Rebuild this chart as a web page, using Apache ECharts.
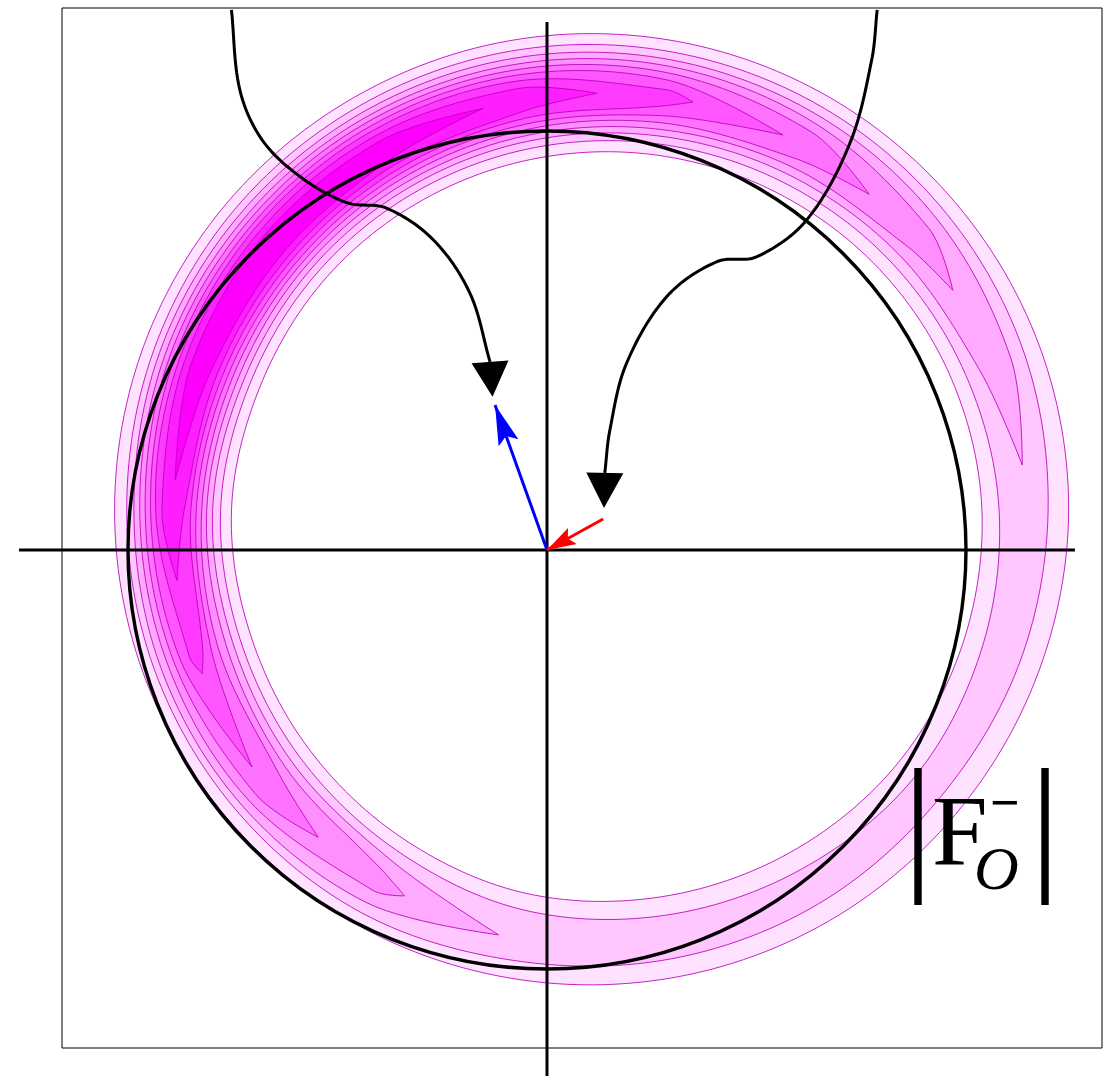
<!DOCTYPE html>
<html>
<head>
<meta charset="utf-8">
<script src="https://cdn.jsdelivr.net/npm/echarts@6/dist/echarts.min.js"></script>
<style>
  html, body { margin: 0; padding: 0; background: #ffffff; }
  #chart { width: 1113px; height: 1076px; }
</style>
</head>
<body>
<div id="chart"></div>
<script>
// ---------------------------------------------------------------
// Plane coordinates in units of the reference circle radius.
// ---------------------------------------------------------------
const X_RANGE = [-1.1575, 1.3246];
const Y_RANGE = [-1.1885, 1.2936];
const AXIS_HALF_LENGTH = 1.26;
const CIRCLE_CENTER = [0, 0];
const CIRCLE_RADIUS = 1;

// |F_O^-| contour ring: polar samples around the ring centre
const RING_CENTER = [0.109, 0.095];
const RING_ANGLES = [0, 20, 40, 60, 80, 100, 120, 140, 160, 180, 200, 220, 240, 260, 280, 300, 320, 340];

// levels 1 and 2 close all the way round
const L1_OUTER = [1.136, 1.136, 1.135, 1.136, 1.137, 1.138, 1.138, 1.140, 1.141, 1.141, 1.141, 1.141, 1.138, 1.134, 1.132, 1.131, 1.130, 1.132];
const L1_INNER = [0.929, 0.912, 0.894, 0.876, 0.861, 0.850, 0.844, 0.844, 0.847, 0.862, 0.869, 0.885, 0.905, 0.928, 0.937, 0.943, 0.946, 0.939];
const L2_OUTER = [1.087, 1.096, 1.102, 1.107, 1.110, 1.113, 1.114, 1.116, 1.115, 1.112, 1.113, 1.112, 1.108, 1.091, 1.087, 1.083, 1.076, 1.082];
const L2_INNER = [0.970, 0.947, 0.926, 0.905, 0.888, 0.876, 0.869, 0.868, 0.872, 0.888, 0.896, 0.914, 0.937, 0.968, 0.982, 0.991, 0.998, 0.986];

// levels 3..9 are crescents: two tips [angle, radius] plus outer/inner radii
const L3_ANGLES = [20, 40, 60, 80, 100, 120, 140, 160, 180, 200, 220, 240];
const L3_OUTER = [1.062, 1.076, 1.085, 1.091, 1.095, 1.097, 1.099, 1.100, 1.095, 1.097, 1.094, 1.081];
const L3_INNER = [0.982, 0.952, 0.927, 0.907, 0.894, 0.886, 0.885, 0.889, 0.907, 0.915, 0.936, 0.964];
const L3_TIPS = [[6, 1.031], [257.5, 1.038]];

const L4_ANGLES = [40, 60, 80, 100, 120, 140, 160, 180, 200, 220, 240];
const L4_OUTER = [1.047, 1.065, 1.075, 1.080, 1.083, 1.085, 1.086, 1.081, 1.079, 1.074, 1.048];
const L4_INNER = [0.980, 0.947, 0.923, 0.908, 0.900, 0.899, 0.903, 0.921, 0.932, 0.956, 0.997];
const L4_TIPS = [[31.4, 1.007], [244, 1.024]];

const L5_ANGLES = [60, 80, 100, 120, 140, 160, 180, 200, 220];
const L5_OUTER = [1.043, 1.059, 1.067, 1.071, 1.073, 1.074, 1.068, 1.063, 1.052];
const L5_INNER = [0.969, 0.939, 0.922, 0.913, 0.911, 0.916, 0.933, 0.952, 0.978];
const L5_TIPS = [[48.8, 1.002], [230, 1.019]];

const L6_ANGLES = [80, 100, 120, 140, 160, 180, 200];
const L6_OUTER = [1.042, 1.054, 1.059, 1.061, 1.062, 1.055, 1.047];
const L6_INNER = [0.956, 0.935, 0.925, 0.922, 0.928, 0.946, 0.969];
const L6_TIPS = [[63.1, 1.004], [217, 1.018]];

const L7_ANGLES = [80, 100, 120, 140, 160, 180, 200];
const L7_OUTER = [1.019, 1.040, 1.047, 1.050, 1.050, 1.043, 1.024];
const L7_INNER = [0.980, 0.949, 0.937, 0.934, 0.940, 0.959, 0.990];
const L7_TIPS = [[76.2, 1.003], [202.7, 1.010]];

const L8_ANGLES = [100, 120, 140, 160, 180];
const L8_OUTER = [1.022, 1.033, 1.037, 1.037, 1.028];
const L8_INNER = [0.966, 0.950, 0.946, 0.953, 0.975];
const L8_TIPS = [[89.4, 0.995], [189.6, 1.006]];

const L9_ANGLES = [120, 140, 160];
const L9_OUTER = [1.017, 1.022, 1.020];
const L9_INNER = [0.967, 0.961, 0.970];
const L9_TIPS = [[105.2, 0.994], [175.9, 0.999]];

// vectors from the origin
const BLUE_VECTOR = [[0, 0], [-0.124, 0.346]];
const RED_VECTOR = [[0.134, 0.074], [0, 0]];

// annotation curves (ending at the base of their arrowheads) and arrow tips
const LEFT_CURVE = [
  [-0.753, 1.289], [-0.733, 1.098], [-0.680, 0.979], [-0.589, 0.891], [-0.478, 0.829],
  [-0.383, 0.816], [-0.271, 0.740], [-0.184, 0.613], [-0.136, 0.449]
];
const LEFT_TIP = [-0.130, 0.366];
const RIGHT_CURVE = [
  [0.788, 1.289], [0.775, 1.170], [0.723, 0.971], [0.620, 0.788], [0.501, 0.700],
  [0.405, 0.688], [0.286, 0.605], [0.190, 0.446], [0.150, 0.286], [0.138, 0.184]
];
const RIGHT_TIP = [0.136, 0.100];

// ---------------------------------------------------------------
// Styles
// ---------------------------------------------------------------
const LEVEL_FILLS = ['#ffe2ff', '#ffc6ff', '#ffaaff', '#ff8eff', '#ff72ff', '#ff56ff', '#ff3aff', '#ff1eff', '#ff00ff'];
const CONTOUR_LINE = 'rgba(185, 0, 185, 0.85)';
const BLACK = '#000000';

const CRESCENTS = [
  { tips: L3_TIPS, angles: L3_ANGLES, outer: L3_OUTER, inner: L3_INNER },
  { tips: L4_TIPS, angles: L4_ANGLES, outer: L4_OUTER, inner: L4_INNER },
  { tips: L5_TIPS, angles: L5_ANGLES, outer: L5_OUTER, inner: L5_INNER },
  { tips: L6_TIPS, angles: L6_ANGLES, outer: L6_OUTER, inner: L6_INNER },
  { tips: L7_TIPS, angles: L7_ANGLES, outer: L7_OUTER, inner: L7_INNER },
  { tips: L8_TIPS, angles: L8_ANGLES, outer: L8_OUTER, inner: L8_INNER },
  { tips: L9_TIPS, angles: L9_ANGLES, outer: L9_OUTER, inner: L9_INNER }
];

// polar sample -> pixel through the cartesian axes
function polarPoint(api, angleDeg, r) {
  const a = angleDeg * Math.PI / 180;
  return api.coord([RING_CENTER[0] + r * Math.cos(a), RING_CENTER[1] + r * Math.sin(a)]);
}

// Catmull-Rom style outline through the given pixels; corner vertices stay sharp
function smoothPath(pts, closed, corners) {
  const n = pts.length, k = 0.34, steps = 14, out = [];
  const cps = pts.map(function (p, i) {
    if (corners && corners[i]) return [p, p];
    const prev = closed ? pts[(i - 1 + n) % n] : pts[Math.max(i - 1, 0)];
    const next = closed ? pts[(i + 1) % n] : pts[Math.min(i + 1, n - 1)];
    const d0 = Math.hypot(p[0] - prev[0], p[1] - prev[1]);
    const d1 = Math.hypot(next[0] - p[0], next[1] - p[1]);
    const s = (d0 + d1) || 1;
    const vx = (next[0] - prev[0]) * k, vy = (next[1] - prev[1]) * k;
    return [[p[0] - vx * d0 / s, p[1] - vy * d0 / s], [p[0] + vx * d1 / s, p[1] + vy * d1 / s]];
  });
  const segs = closed ? n : n - 1;
  for (let i = 0; i < segs; i++) {
    const p0 = pts[i], p1 = pts[(i + 1) % n], c0 = cps[i][1], c1 = cps[(i + 1) % n][0];
    for (let t = 0; t < steps; t++) {
      const u = t / steps, w = 1 - u;
      out.push([
        w * w * w * p0[0] + 3 * w * w * u * c0[0] + 3 * w * u * u * c1[0] + u * u * u * p1[0],
        w * w * w * p0[1] + 3 * w * w * u * c0[1] + 3 * w * u * u * c1[1] + u * u * u * p1[1]
      ]);
    }
  }
  if (!closed) out.push(pts[n - 1]);
  return out;
}

function ringOutline(api, radii) {
  return smoothPath(RING_ANGLES.map(function (a, i) { return polarPoint(api, a, radii[i]); }), true, null);
}

function crescentOutline(api, lvl) {
  const pts = [], corners = [];
  pts.push(polarPoint(api, lvl.tips[0][0], lvl.tips[0][1])); corners.push(true);
  lvl.angles.forEach(function (a, i) { pts.push(polarPoint(api, a, lvl.outer[i])); corners.push(false); });
  pts.push(polarPoint(api, lvl.tips[1][0], lvl.tips[1][1])); corners.push(true);
  for (let i = lvl.angles.length - 1; i >= 0; i--) { pts.push(polarPoint(api, lvl.angles[i], lvl.inner[i])); corners.push(false); }
  return smoothPath(pts, true, corners);
}

function renderContours(params, api) {
  const o1 = ringOutline(api, L1_OUTER), i1 = ringOutline(api, L1_INNER);
  const o2 = ringOutline(api, L2_OUTER), i2 = ringOutline(api, L2_INNER);
  const crescents = CRESCENTS.map(function (lvl) { return crescentOutline(api, lvl); });
  const fill = function (pts, color) { return { type: 'polygon', shape: { points: pts }, style: { fill: color, stroke: null } }; };
  const line = function (pts) { return { type: 'polygon', shape: { points: pts }, style: { fill: 'none', stroke: CONTOUR_LINE, lineWidth: 1 } }; };
  const children = [
    fill(o1, LEVEL_FILLS[0]), fill(o2, LEVEL_FILLS[1]), fill(i2, LEVEL_FILLS[0]), fill(i1, '#ffffff')
  ];
  crescents.forEach(function (pts, i) { children.push(fill(pts, LEVEL_FILLS[i + 2])); });
  [o1, i1, o2, i2].concat(crescents).forEach(function (pts) { children.push(line(pts)); });
  return { type: 'group', children: children };
}

function renderCircle(params, api) {
  const c = api.coord([api.value(0), api.value(1)]);
  const r = api.size([CIRCLE_RADIUS, 0])[0];
  return { type: 'circle', shape: { cx: c[0], cy: c[1], r: r }, style: { fill: 'none', stroke: BLACK, lineWidth: 3.4 } };
}

// straight segment [x0,y0] -> [x1,y1]
function segmentRenderer(color) {
  return function (params, api) {
    const p0 = api.coord([api.value(0), api.value(1)]);
    const p1 = api.coord([api.value(2), api.value(3)]);
    return { type: 'line', shape: { x1: p0[0], y1: p0[1], x2: p1[0], y2: p1[1] }, style: { stroke: color, lineWidth: 3 } };
  };
}

// smooth annotation curve through every point of the series
function curveRenderer(points) {
  return function (params, api) {
    if (params.dataIndex !== 0) return null;
    const px = points.map(function (p) { return api.coord(p); });
    return { type: 'polyline', shape: { points: smoothPath(px, false, null) }, style: { fill: 'none', stroke: BLACK, lineWidth: 3, lineJoin: 'round' } };
  };
}

// arrowhead between [x0,y0] (shaft side) and [x1,y1] (tip)
function headRenderer(color, length, width, notch) {
  return function (params, api) {
    const p0 = api.coord([api.value(0), api.value(1)]);
    const p1 = api.coord([api.value(2), api.value(3)]);
    const dx = p1[0] - p0[0], dy = p1[1] - p0[1];
    const d = Math.hypot(dx, dy) || 1;
    const ux = dx / d, uy = dy / d, nx = -uy, ny = ux;
    const L = length || d;
    const bx = p1[0] - ux * L, by = p1[1] - uy * L;
    const pts = [[p1[0], p1[1]], [bx + nx * width / 2, by + ny * width / 2]];
    if (notch) pts.push([bx + ux * L * notch, by + uy * L * notch]);
    pts.push([bx - nx * width / 2, by - ny * width / 2]);
    return { type: 'polygon', shape: { points: pts }, style: { fill: color, stroke: null } };
  };
}

const chart = echarts.init(document.getElementById('chart'), null, { renderer: 'canvas' });

chart.setOption({
  animation: false,
  backgroundColor: '#ffffff',
  grid: { left: 62, top: 8, width: 1040, height: 1040, show: true, borderColor: BLACK, borderWidth: 1, backgroundColor: 'transparent' },
  xAxis: { type: 'value', min: X_RANGE[0], max: X_RANGE[1], show: false },
  yAxis: { type: 'value', min: Y_RANGE[0], max: Y_RANGE[1], show: false },
  series: [
    { type: 'custom', name: 'contours', z: 1, clip: false, silent: true,
      data: [[RING_CENTER[0], RING_CENTER[1]]], renderItem: renderContours },
    { type: 'custom', name: 'circle', z: 3, clip: false, silent: true,
      data: [CIRCLE_CENTER], renderItem: renderCircle },
    { type: 'custom', name: 'axes', z: 4, clip: false, silent: true,
      data: [[-AXIS_HALF_LENGTH, 0, AXIS_HALF_LENGTH, 0], [0, AXIS_HALF_LENGTH, 0, -AXIS_HALF_LENGTH]],
      renderItem: segmentRenderer(BLACK) },
    { type: 'custom', name: 'left curve', z: 5, clip: false, silent: true,
      data: LEFT_CURVE, renderItem: curveRenderer(LEFT_CURVE) },
    { type: 'custom', name: 'right curve', z: 5, clip: false, silent: true,
      data: RIGHT_CURVE, renderItem: curveRenderer(RIGHT_CURVE) },
    { type: 'custom', name: 'curve heads', z: 6, clip: false, silent: true,
      data: [LEFT_CURVE[LEFT_CURVE.length - 1].concat(LEFT_TIP), RIGHT_CURVE[RIGHT_CURVE.length - 1].concat(RIGHT_TIP)],
      renderItem: headRenderer(BLACK, 0, 37, 0) },
    { type: 'custom', name: 'blue vector', z: 6, clip: false, silent: true,
      data: [BLUE_VECTOR[0].concat(BLUE_VECTOR[1])], renderItem: segmentRenderer('#0000ff') },
    { type: 'custom', name: 'blue head', z: 7, clip: false, silent: true,
      data: [BLUE_VECTOR[0].concat(BLUE_VECTOR[1])], renderItem: headRenderer('#0000ff', 40, 21, 0.18) },
    { type: 'custom', name: 'red vector', z: 6, clip: false, silent: true,
      data: [RED_VECTOR[0].concat(RED_VECTOR[1])], renderItem: segmentRenderer('#ff0000') },
    { type: 'custom', name: 'red head', z: 7, clip: false, silent: true,
      data: [RED_VECTOR[0].concat(RED_VECTOR[1])], renderItem: headRenderer('#ff0000', 29, 18, 0.18) }
  ],
  graphic: [
    { type: 'text', x: 918, y: 834, z: 10, silent: true,
      style: { text: '|', font: '150px "Liberation Serif"', fill: BLACK, align: 'center', verticalAlign: 'middle' } },
    { type: 'text', x: 932, y: 838, z: 10, silent: true,
      style: { text: 'F', font: '100px "Liberation Serif"', fill: BLACK, align: 'left', verticalAlign: 'middle' } },
    { type: 'text', x: 990, y: 807, z: 10, silent: true,
      style: { text: '\u2212', font: 'bold 52px "Liberation Serif"', fill: BLACK, align: 'left', verticalAlign: 'middle' } },
    { type: 'text', x: 974, y: 873, z: 10, silent: true,
      style: { text: 'O', font: 'italic 62px "Liberation Serif"', fill: BLACK, align: 'left', verticalAlign: 'middle' } },
    { type: 'text', x: 1045, y: 834, z: 10, silent: true,
      style: { text: '|', font: '150px "Liberation Serif"', fill: BLACK, align: 'center', verticalAlign: 'middle' } }
  ]
});
</script>
</body>
</html>
